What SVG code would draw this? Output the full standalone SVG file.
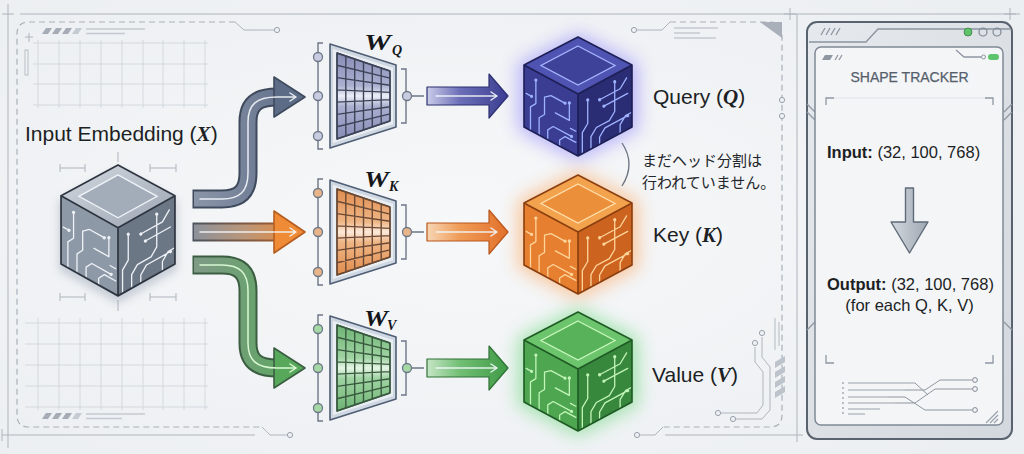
<svg xmlns="http://www.w3.org/2000/svg" width="1024" height="454" viewBox="0 0 1024 454">
<style>
.thin{fill:none;stroke:#aeb5be;stroke-width:1}
.dash{fill:none;stroke:#a9b1bb;stroke-width:1.2;stroke-dasharray:6 4}
.grid{fill:none;stroke:#cdd3da;stroke-width:0.8}
.faint{fill:none;stroke:#c4cad1;stroke-width:1.4}
.hole{fill:#eef1f4;stroke:#9aa2ad;stroke-width:1}
.hatch{fill:#a5acb6}
.lbl{font-family:"Liberation Sans",Arial,sans-serif;font-size:21px;fill:#1c1f24}
.math{font-family:"Liberation Serif","Times New Roman",serif;font-weight:bold;font-style:italic}
.wl{font-family:"Liberation Serif","Times New Roman",serif;font-weight:bold;font-style:italic;fill:#15171b}
.jp{font-family:"Noto Sans CJK JP","Noto Sans CJK SC",sans-serif;font-size:15px;fill:#23262b}
.pt{font-family:"Liberation Sans",Arial,sans-serif;font-size:16.5px;fill:#1c1f24}
.edge{fill:none;stroke-width:1.6;stroke-linejoin:round}
.brk{fill:none;stroke:#6c7787;stroke-width:1.4}
.wf{fill:#cfd8e2;stroke:#4f5e74;stroke-width:1.6;stroke-linejoin:round}
.wi{fill:#e9eef3;stroke:none}
.hl{fill:none;stroke:#f4f7fb;stroke-width:1.5;stroke-linecap:round;stroke-linejoin:round;opacity:0.9}
.pdec{fill:none;stroke:#8e97a2;stroke-width:1.3}
</style>
<defs>
<radialGradient id="bgv" cx="0.45" cy="0.5" r="0.7">
<stop offset="0" stop-color="#ffffff" stop-opacity="0.55"/>
<stop offset="1" stop-color="#ffffff" stop-opacity="0"/>
</radialGradient>
<filter id="glow" x="-60%" y="-60%" width="220%" height="220%"><feGaussianBlur stdDeviation="9"/></filter>
<filter id="soft" x="-30%" y="-30%" width="160%" height="160%"><feGaussianBlur stdDeviation="4"/></filter>
<path id="trL" fill="none" stroke-width="1.3" stroke-linecap="round" stroke-linejoin="round" vector-effect="non-scaling-stroke" d="M12,100 V62 L22,52 V16 M28,100 V72 L38,62 V34 L50,26 H74 M44,100 V84 L54,74 H88 M66,100 V90 L76,80 H96 M4,44 H14 M58,50 H84 V24 M86,62 H96"/>
<path id="dotL" fill="none" stroke-width="3.2" stroke-linecap="round" vector-effect="non-scaling-stroke" d="M22,14 h0.01 M76,26 h0.01 M14,44 h0.01 M84,22 h0.01 M88,74 h0.01"/>
<path id="trR" fill="none" stroke-width="1.3" stroke-linecap="round" stroke-linejoin="round" vector-effect="non-scaling-stroke" d="M8,100 V66 L18,56 V20 M24,100 V80 L34,70 H58 L68,60 V14 M40,100 V88 L50,78 H92 M78,100 V86 L88,76 H98 M48,42 H92 M40,28 H78 L90,16"/>
<path id="dotR" fill="none" stroke-width="3.2" stroke-linecap="round" vector-effect="non-scaling-stroke" d="M18,18 h0.01 M68,12 h0.01 M92,78 h0.01 M48,42 h0.01 M40,28 h0.01"/>
<path id="wgrid" fill="none" stroke-width="1.4" stroke-linejoin="round" d="M337,-43 V43 M345.8,-40 V40 M354.7,-37 V37 M363.5,-34 V34 M372.3,-31 V31 M381.2,-28 V28 M390,-25 V25 M337,-43 L390,-25 M337,-30.7 L390,-17.9 M337,-18.4 L390,-10.7 M337,-6.1 L390,-3.6 M337,6.1 L390,3.6 M337,18.4 L390,10.7 M337,30.7 L390,17.9 M337,43 L390,25"/>
<path id="wframe" d="M330,-52 L396,-31 L396,31 L330,52 Z"/>
<path id="wbev" d="M333,-47 L393,-28 L393,28 L333,47 Z"/>
<path id="wquad" d="M337,-43 L390,-25 L390,25 L337,43 Z"/>
<path id="wbr" fill="none" d="M323,-53 H318 V53 H323 M401,-27 H406 V27 H401 M411.5,0 H424"/>
<linearGradient id="gWq" x1="0" y1="0" x2="0" y2="1"><stop offset="0" stop-color="#868cb5"/><stop offset="0.38" stop-color="#aab0d0"/><stop offset="0.5" stop-color="#eceef7"/><stop offset="0.62" stop-color="#aab0d0"/><stop offset="1" stop-color="#868cb5"/></linearGradient>
<linearGradient id="gWk" x1="0" y1="0" x2="0" y2="1"><stop offset="0" stop-color="#e08c4e"/><stop offset="0.38" stop-color="#efb585"/><stop offset="0.5" stop-color="#fdeadb"/><stop offset="0.62" stop-color="#efb585"/><stop offset="1" stop-color="#e08c4e"/></linearGradient>
<linearGradient id="gWv" x1="0" y1="0" x2="0" y2="1"><stop offset="0" stop-color="#6db373"/><stop offset="0.38" stop-color="#9fd3a2"/><stop offset="0.5" stop-color="#e6f5e6"/><stop offset="0.62" stop-color="#9fd3a2"/><stop offset="1" stop-color="#6db373"/></linearGradient>
<linearGradient id="gT" gradientUnits="userSpaceOnUse" x1="194" y1="0" x2="305" y2="0"><stop offset="0" stop-color="#8a95a8"/><stop offset="1" stop-color="#5c6b86"/></linearGradient>
<linearGradient id="gM" gradientUnits="userSpaceOnUse" x1="194" y1="0" x2="305" y2="0"><stop offset="0" stop-color="#8c919b"/><stop offset="0.45" stop-color="#b9967a"/><stop offset="1" stop-color="#ef8a36"/></linearGradient>
<linearGradient id="gMo" gradientUnits="userSpaceOnUse" x1="194" y1="0" x2="305" y2="0"><stop offset="0" stop-color="#4d545e"/><stop offset="1" stop-color="#b65d20"/></linearGradient>
<linearGradient id="gB" gradientUnits="userSpaceOnUse" x1="194" y1="0" x2="305" y2="0"><stop offset="0" stop-color="#7f9a86"/><stop offset="1" stop-color="#58a85c"/></linearGradient>
<linearGradient id="gQa" gradientUnits="userSpaceOnUse" x1="427" y1="0" x2="508" y2="0"><stop offset="0" stop-color="#c9cce8"/><stop offset="0.4" stop-color="#6d70b8"/><stop offset="1" stop-color="#3a3c90"/></linearGradient>
<linearGradient id="gKa" gradientUnits="userSpaceOnUse" x1="427" y1="0" x2="508" y2="0"><stop offset="0" stop-color="#f7d6b5"/><stop offset="0.4" stop-color="#ef9c58"/><stop offset="1" stop-color="#e2702a"/></linearGradient>
<linearGradient id="gVa" gradientUnits="userSpaceOnUse" x1="427" y1="0" x2="508" y2="0"><stop offset="0" stop-color="#c6e5c6"/><stop offset="0.4" stop-color="#72bf75"/><stop offset="1" stop-color="#3f9a46"/></linearGradient>
<linearGradient id="gDown" x1="0" y1="0" x2="1" y2="0"><stop offset="0" stop-color="#d3d8de"/><stop offset="1" stop-color="#9ea7b2"/></linearGradient>
<linearGradient id="gPanel" x1="0" y1="0" x2="1" y2="1"><stop offset="0" stop-color="#e6e9ed"/><stop offset="1" stop-color="#d3d8de"/></linearGradient>
<linearGradient id="gInTop" x1="0" y1="0" x2="1" y2="1"><stop offset="0" stop-color="#d3d9e0"/><stop offset="1" stop-color="#9aa4b1"/></linearGradient>
</defs>

<rect width="1024" height="454" fill="#eceff2"/>
<rect width="1024" height="454" fill="url(#bgv)"/>

<g id="background">
<path class="thin" d="M20,14 H1020 M8,4 V448 M2,14 H14 M784,14 H796 M790,8 V20 M1004,14 H1016 M1010,8 V20 M2,435 H255 M665,435 H803 M797,14 V442 M2,429 V441"/>
<path class="dash" d="M235,22 H29 Q17,22 17,34 V415 Q17,427 29,427 H262"/>
<path class="thin" d="M235,22 L244,30 H274 M262,427 L270,435 H287 M637,30 H662 L670,22 M663,427 L655,435 H640"/>
<path class="dash" d="M670,22 H770 Q782,22 782,34 V415 Q782,427 770,427 H663"/>
<circle class="hole" cx="277" cy="30" r="2.6"/>
<circle class="hole" cx="290" cy="435" r="2.6"/>
<circle class="hole" cx="634" cy="30" r="2.6"/>
<circle class="hole" cx="637" cy="435" r="2.6"/>
<circle class="hole" cx="782" cy="100" r="2.6"/>
<circle class="hole" cx="782" cy="116" r="2.6"/>
<polygon points="760,22 782,22 782,38" fill="#a9b0ba"/>
<path class="grid" d="M38,40 V108 M59,40 V108 M80,40 V108 M101,40 V108 M122,40 V108 M143,40 V108 M163,40 V108 M184,40 V108 M205,40 V108 M33,43 H208 M33,64 H208 M33,84 H208 M33,105 H208"/>
<path class="grid" d="M38,318 V410 M59,318 V410 M80,318 V410 M101,318 V410 M122,318 V410 M143,318 V410 M163,318 V410 M184,318 V410 M205,318 V410 M25,323 H208 M25,344 H208 M25,365 H208 M25,386 H208 M25,407 H208"/>
<path class="hatch" d="M42,34 L46,28 H52 L48,34 Z M52,34 L56,28 H62 L58,34 Z M62,34 L66,28 H72 L68,34 Z"/>
<path d="M72,34 L76,28 H82 L78,34 Z" fill="#c5cbd2"/>
<path class="hatch" d="M42,419 L46,413 H52 L48,419 Z M52,419 L56,413 H62 L58,419 Z M62,419 L66,413 H72 L68,419 Z"/>
<path d="M72,419 L76,413 H82 L78,419 Z" fill="#c5cbd2"/>
<path class="faint" d="M86,29 H145 M86,33.5 H125 M86,414 H145 M86,418.5 H122 M674,28 H718 M674,33 H700 M674,38 H716"/>
<path class="thin" d="M29,33 V42 M25,37 H33"/>
<rect x="25" y="50" width="3" height="25" fill="none" stroke="#b3bac3" stroke-width="0.9"/>
<path class="thin" d="M755,347 V362 L763,372 V405 L757,413 H721 M762,337 V357 L770,367 V410 L762,419 H736"/>
<circle class="hole" cx="755" cy="343" r="2.6"/>
<circle class="hole" cx="762" cy="333" r="2.6"/>
<circle class="hole" cx="718" cy="413" r="2.6"/>
<circle class="hole" cx="733" cy="419" r="2.6"/>
<path d="M775,362 L785,356 V362 L775,368 Z M775,372 L785,366 V372 L775,378 Z M775,382 L785,376 V382 L775,388 Z M775,392 L785,386 V392 L775,398 Z" fill="#bcc3cb"/>
<path class="faint" d="M775,318 V350 M779,322 V346"/>
<path class="thin" d="M60,168 H85 M60,164 V172 M85,164 V172 M150,168 H176 M150,164 V172 M176,164 V172 M118,152 V162 M60,297 H85 M60,293 V301 M85,293 V301 M150,297 H176 M150,293 V301 M176,293 V301 M118,300 V311"/>
</g>

<g id="connectors">
<path d="M192.5,199 H222 C240,199 248,191 248,173 V122 C248,105 256,97 277,97" fill="none" stroke="#3f4a5d" stroke-width="19"/>
<path d="M194,199 H222 C240,199 248,191 248,173 V122 C248,105 256,97 277,97" fill="none" stroke="url(#gT)" stroke-width="15"/>
<polygon points="274,77 305,97 274,117" fill="#5d6c86" stroke="#3f4a5d" stroke-width="1.6" stroke-linejoin="round"/>
<path class="hl" d="M200,199 H222 C240,199 248,191 248,173 V122 C248,105 256,97 277,97 H296 M290,93 L296,97 L290,101"/>

<path d="M192.5,232 H277" fill="none" stroke="url(#gMo)" stroke-width="19"/>
<path d="M194,232 H277" fill="none" stroke="url(#gM)" stroke-width="15"/>
<polygon points="274,211 305,232 274,253" fill="#ef8a36" stroke="#b65d20" stroke-width="1.6" stroke-linejoin="round"/>
<path class="hl" d="M200,232 H296 M290,228 L296,232 L290,236"/>

<path d="M192.5,265 H222 C240,265 248,273 248,291 V343 C248,360 256,368 277,368" fill="none" stroke="#3b5e42" stroke-width="19"/>
<path d="M194,265 H222 C240,265 248,273 248,291 V343 C248,360 256,368 277,368" fill="none" stroke="url(#gB)" stroke-width="15"/>
<polygon points="274,348 305,368 274,388" fill="#58a85c" stroke="#3b5e42" stroke-width="1.6" stroke-linejoin="round"/>
<path d="M200,265 H222 C240,265 248,273 248,291 V343 C248,360 256,368 277,368 H296 M290,364 L296,368 L290,372" fill="none" stroke="#d9f7d2" stroke-width="1.5" stroke-linecap="round"/>

<path d="M427,87 H489 V74 L508,96 L489,118 V105 H427 Z" fill="url(#gQa)" stroke="#2d2f70" stroke-width="1.2" stroke-linejoin="round"/>
<path class="hl" d="M436,96 H497 M491,92 L497,96 L491,100"/>
<path d="M427,223 H489 V210 L508,232 L489,254 V241 H427 Z" fill="url(#gKa)" stroke="#b9561c" stroke-width="1.2" stroke-linejoin="round"/>
<path class="hl" d="M436,232 H497 M491,228 L497,232 L491,236"/>
<path d="M427,359 H489 V346 L508,368 L489,390 V377 H427 Z" fill="url(#gVa)" stroke="#2f7035" stroke-width="1.2" stroke-linejoin="round"/>
<path class="hl" d="M436,368 H497 M491,364 L497,368 L491,372"/>
</g>

<g id="input-embedding">
<text class="lbl" x="25" y="141" font-size="21.5">Input Embedding (<tspan class="math">X</tspan>)</text>
<g transform="translate(118,165) scale(1.055,1.1)">
<path d="M0,4 L56,33 L56,96 L0,126 L-56,96 L-56,33 Z" fill="#7b8aa0" opacity="0.35" filter="url(#soft)"/>
<path d="M-54,28 L0,57 L0,119 L-54,90 Z" fill="#8e99a7"/>
<path d="M0,57 L54,28 L54,90 L0,119 Z" fill="#6c7786"/>
<path d="M0,0 L54,28 L0,57 L-54,28 Z" fill="url(#gInTop)"/>
<path d="M0,9 L37,28.5 L0,48 L-37,28.5 Z" fill="#a3adb9" stroke="#eef2f7" stroke-width="1.3"/>
<g stroke="#eef2f7">
<use href="#trL" transform="matrix(0.54,0.29,0,0.62,-54,28)"/>
<use href="#dotL" transform="matrix(0.54,0.29,0,0.62,-54,28)"/>
<use href="#trR" transform="matrix(0.54,-0.29,0,0.62,0,57)"/>
<use href="#dotR" transform="matrix(0.54,-0.29,0,0.62,0,57)"/>
</g>
<path class="edge" stroke="#2e3540" d="M0,0 L54,28 L54,90 L0,119 L-54,90 L-54,28 Z M-54,28 L0,57 L54,28 M0,57 V119"/>
</g>
</g>

<g id="wq">
<text class="wl" x="364" y="50" font-size="24" textLength="27" lengthAdjust="spacingAndGlyphs">W</text>
<text class="wl" x="392" y="55" font-size="14">Q</text>
<g transform="translate(0,96)">
<use href="#wframe" class="wf"/>
<use href="#wbev" class="wi"/>
<use href="#wquad" fill="url(#gWq)" stroke="#3e4458" stroke-width="1.4"/>
<use href="#wgrid" stroke="#3e4458"/>
<use href="#wbr" class="brk"/>
<g fill="#c9cbe0" stroke="#6c7787" stroke-width="1.3"><circle cx="318" cy="-39" r="4.5"/><circle cx="318" cy="0" r="4.5"/><circle cx="318" cy="40" r="4.5"/><circle cx="407" cy="0" r="4.5"/></g>
</g>
</g>

<g id="wk">
<text class="wl" x="364" y="187" font-size="24" textLength="25" lengthAdjust="spacingAndGlyphs">W</text>
<text class="wl" x="389" y="191" font-size="14">K</text>
<g transform="translate(0,232)">
<use href="#wframe" class="wf"/>
<use href="#wbev" class="wi"/>
<use href="#wquad" fill="url(#gWk)" stroke="#6b4a35" stroke-width="1.4"/>
<use href="#wgrid" stroke="#6b4a35"/>
<use href="#wbr" class="brk"/>
<g fill="#e8b48a" stroke="#6c7787" stroke-width="1.3"><circle cx="318" cy="-39" r="4.5"/><circle cx="318" cy="0" r="4.5"/><circle cx="318" cy="40" r="4.5"/><circle cx="407" cy="0" r="4.5"/></g>
</g>
</g>

<g id="wv">
<text class="wl" x="364" y="326" font-size="24" textLength="24" lengthAdjust="spacingAndGlyphs">W</text>
<text class="wl" x="387" y="330" font-size="14">V</text>
<g transform="translate(0,368)">
<use href="#wframe" class="wf"/>
<use href="#wbev" class="wi"/>
<use href="#wquad" fill="url(#gWv)" stroke="#3a5a40" stroke-width="1.4"/>
<use href="#wgrid" stroke="#3a5a40"/>
<use href="#wbr" class="brk"/>
<g fill="#a6d8a6" stroke="#6c7787" stroke-width="1.3"><circle cx="318" cy="-39" r="4.5"/><circle cx="318" cy="0" r="4.5"/><circle cx="318" cy="40" r="4.5"/><circle cx="407" cy="0" r="4.5"/></g>
</g>
</g>

<g id="query">
<g transform="translate(578,37)">
<path d="M0,-4 L60,26 L60,93 L0,124 L-60,93 L-60,26 Z" fill="#6b5cff" opacity="0.42" filter="url(#glow)"/>
<path d="M-54,28 L0,57 L0,119 L-54,90 Z" fill="#3a3d92"/>
<path d="M0,57 L54,28 L54,90 L0,119 Z" fill="#2a2c74"/>
<path d="M0,0 L54,28 L0,57 L-54,28 Z" fill="#4f53b2"/>
<path d="M0,9 L37,28.5 L0,48 L-37,28.5 Z" fill="#3f4299" stroke="#a7b6ff" stroke-width="1.3"/>
<g stroke="#9fb2ff">
<use href="#trL" transform="matrix(0.54,0.29,0,0.62,-54,28)"/>
<use href="#dotL" transform="matrix(0.54,0.29,0,0.62,-54,28)"/>
<use href="#trR" transform="matrix(0.54,-0.29,0,0.62,0,57)"/>
<use href="#dotR" transform="matrix(0.54,-0.29,0,0.62,0,57)"/>
</g>
<path class="edge" stroke="#1d1f55" d="M0,0 L54,28 L54,90 L0,119 L-54,90 L-54,28 Z M-54,28 L0,57 L54,28 M0,57 V119"/>
</g>
<text class="lbl" x="653" y="104">Query (<tspan class="math">Q</tspan>)</text>
</g>

<g id="key">
<g transform="translate(578,175)">
<path d="M0,-4 L60,26 L60,93 L0,124 L-60,93 L-60,26 Z" fill="#ff8a2a" opacity="0.45" filter="url(#glow)"/>
<path d="M-54,28 L0,57 L0,119 L-54,90 Z" fill="#e67f30"/>
<path d="M0,57 L54,28 L54,90 L0,119 Z" fill="#cc6420"/>
<path d="M0,0 L54,28 L0,57 L-54,28 Z" fill="#f3a24e"/>
<path d="M0,9 L37,28.5 L0,48 L-37,28.5 Z" fill="#ec8f3b" stroke="#ffe0ad" stroke-width="1.3"/>
<g stroke="#ffd49a">
<use href="#trL" transform="matrix(0.54,0.29,0,0.62,-54,28)"/>
<use href="#dotL" transform="matrix(0.54,0.29,0,0.62,-54,28)"/>
<use href="#trR" transform="matrix(0.54,-0.29,0,0.62,0,57)"/>
<use href="#dotR" transform="matrix(0.54,-0.29,0,0.62,0,57)"/>
</g>
<path class="edge" stroke="#8a3f10" d="M0,0 L54,28 L54,90 L0,119 L-54,90 L-54,28 Z M-54,28 L0,57 L54,28 M0,57 V119"/>
</g>
<text class="lbl" x="653" y="242">Key (<tspan class="math">K</tspan>)</text>
</g>

<g id="value">
<g transform="translate(578,312)">
<path d="M0,-4 L60,26 L60,93 L0,124 L-60,93 L-60,26 Z" fill="#3fcf55" opacity="0.45" filter="url(#glow)"/>
<path d="M-54,28 L0,57 L0,119 L-54,90 Z" fill="#4ea650"/>
<path d="M0,57 L54,28 L54,90 L0,119 Z" fill="#37873d"/>
<path d="M0,0 L54,28 L0,57 L-54,28 Z" fill="#6cc46c"/>
<path d="M0,9 L37,28.5 L0,48 L-37,28.5 Z" fill="#58b25a" stroke="#c8f7bd" stroke-width="1.3"/>
<g stroke="#c2f5b8">
<use href="#trL" transform="matrix(0.54,0.29,0,0.62,-54,28)"/>
<use href="#dotL" transform="matrix(0.54,0.29,0,0.62,-54,28)"/>
<use href="#trR" transform="matrix(0.54,-0.29,0,0.62,0,57)"/>
<use href="#dotR" transform="matrix(0.54,-0.29,0,0.62,0,57)"/>
</g>
<path class="edge" stroke="#1f5a25" d="M0,0 L54,28 L54,90 L0,119 L-54,90 L-54,28 Z M-54,28 L0,57 L54,28 M0,57 V119"/>
</g>
<text class="lbl" x="652" y="382">Value (<tspan class="math">V</tspan>)</text>
</g>

<g id="note">
<path d="M622,143 Q636,164 622,186" fill="none" stroke="#6b7280" stroke-width="1.3"/>
<text class="jp" x="642" y="166">まだヘッド分割は</text>
<text class="jp" x="642" y="188">行われていません。</text>
</g>

<g id="shape-tracker">
<rect x="807" y="22" width="205" height="417" rx="10" fill="url(#gPanel)" stroke="#59636f" stroke-width="2"/>
<path d="M809,42 H866 L878,29 H1010" fill="none" stroke="#8b949f" stroke-width="1.3"/>
<path class="pdec" d="M821,35 L825,28 M826,35 L830,28 M831,35 L835,28 M836,35 L840,28"/>
<circle cx="968" cy="32" r="4" fill="#5fc36a" stroke="#4c8f55" stroke-width="1"/>
<circle cx="983" cy="32" r="4" fill="none" stroke="#7d8794" stroke-width="1.2"/>
<circle cx="997" cy="32" r="4" fill="none" stroke="#7d8794" stroke-width="1.2"/>
<path class="pdec" d="M807,104 L815,112 M807,112 L815,120 M1012,104 L1004,112 M1012,112 L1004,120 M807,330 L815,322 M1012,330 L1004,322"/>
<rect x="815" y="47" width="188" height="378" rx="6" fill="#f4f5f7" stroke="#7f8995" stroke-width="1.5"/>
<path d="M822,60 L825,55 H833 L830,60 Z" fill="#8e97a2"/>
<path class="pdec" d="M835,60 L838,55 M839,60 L842,55"/>
<path class="pdec" d="M956,50 L964,57 H981"/>
<circle cx="983.5" cy="57" r="2" fill="none" stroke="#8e97a2" stroke-width="1"/>
<rect x="988" y="54" width="11" height="6" rx="3" fill="#5cc46a"/>
<text x="909.5" y="82" text-anchor="middle" font-family="'Liberation Sans',Arial,sans-serif" font-size="14" fill="#56606d" stroke="#56606d" stroke-width="0.25">SHAPE TRACKER</text>
<path d="M833,98 H986" fill="none" stroke="#e0e4e9" stroke-width="1"/>
<path class="pdec" d="M826,105 V98 H834 M985,98 H993 V105 M826,355 V363 H834 M985,363 H993 V355"/>
<text class="pt" x="827" y="158"><tspan font-weight="bold">Input:</tspan> (32, 100, 768)</text>
<path d="M905.5,188 H913.5 V222 H928 L909.5,253 L891,222 H905.5 Z" fill="url(#gDown)" stroke="#5f6a78" stroke-width="1.4" stroke-linejoin="round"/>
<text class="pt" x="827" y="290"><tspan font-weight="bold">Output:</tspan> (32, 100, 768)</text>
<text class="pt" x="909.5" y="311" text-anchor="middle">(for each Q, K, V)</text>
<path d="M843,383 h0.01 M843,388 h0.01 M843,393 h0.01 M843,398 h0.01 M843,403 h0.01 M843,408 h0.01 M843,413 h0.01" fill="none" stroke="#a5adb7" stroke-width="2" stroke-linecap="round"/>
<path d="M848,383 H915 M848,390 H905 M848,397 H888 M848,403 H895 M848,409 H880 M848,414 H865" fill="none" stroke="#9aa3ae" stroke-width="1"/>
<path d="M905,390 H925 L940,380 H972 M895,403 H915 L935,389 H972 M888,397 H905 L925,410 H972 M915,383 L928,395" fill="none" stroke="#8e97a2" stroke-width="1"/>
<circle cx="975" cy="380" r="2.4" fill="#f4f5f7" stroke="#7f8995" stroke-width="1"/>
<circle cx="975" cy="389" r="2.4" fill="#f4f5f7" stroke="#7f8995" stroke-width="1"/>
<circle cx="975" cy="410" r="2.4" fill="#f4f5f7" stroke="#7f8995" stroke-width="1"/>
<path d="M986,423 L998,411 M990,423 L998,415 M994,423 L998,419" fill="none" stroke="#9aa3ae" stroke-width="1.2"/>
</g>
</svg>
